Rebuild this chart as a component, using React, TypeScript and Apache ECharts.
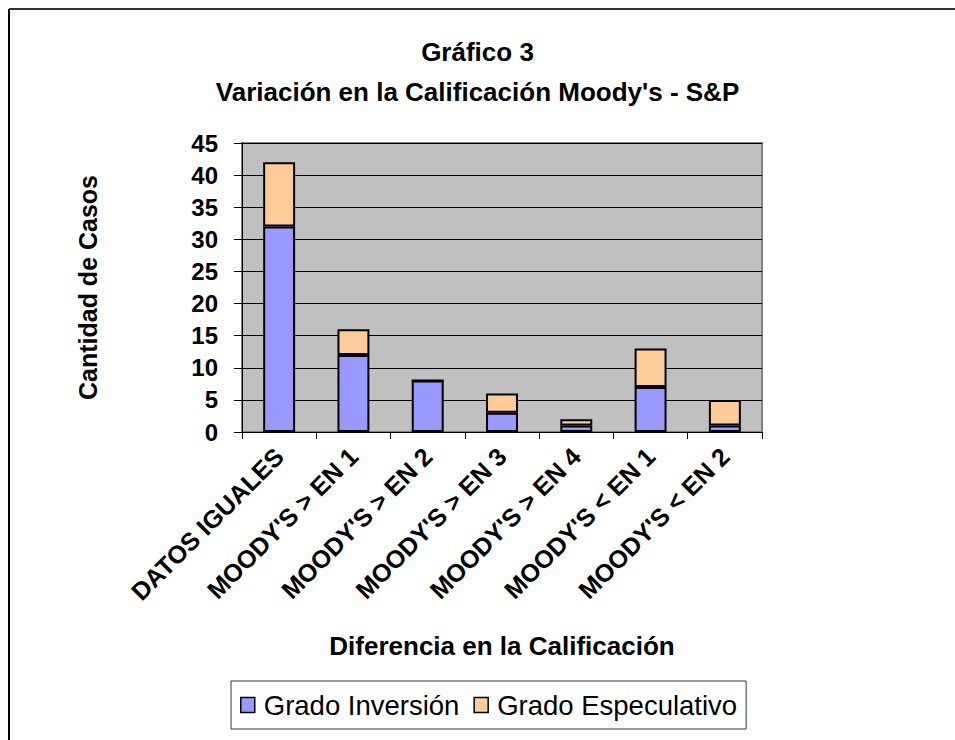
import React, { useEffect, useRef } from "react";
import * as echarts from "echarts";

const categories = [
  "DATOS IGUALES",
  "MOODY'S > EN 1",
  "MOODY'S > EN 2",
  "MOODY'S > EN 3",
  "MOODY'S > EN 4",
  "MOODY'S < EN 1",
  "MOODY'S < EN 2",
];
const gradoInversion = [32, 12, 8, 3, 1, 7, 1];
const gradoEspeculativo = [10, 4, 0, 3, 1, 6, 4];
const seriesNames = ["Grado Inversión", "Grado Especulativo"];
const titleText = "Gráfico 3\nVariación en la Calificación Moody's - S&P";
const yAxisTitle = "Cantidad de Casos";
const xAxisTitle = "Diferencia en la Calificación";

const FONT = "'Liberation Sans', Arial, sans-serif";

export default function App() {
  const ref = useRef<HTMLDivElement>(null);
  useEffect(() => {
    if (!ref.current) return;
    const chart = echarts.init(ref.current, null, { renderer: "svg" });
    chart.setOption({
      animation: false,
      backgroundColor: "#ffffff",
      textStyle: { fontFamily: FONT },
      title: {
        text: titleText,
        left: "center",
        top: 27,
        textStyle: {
          fontFamily: FONT,
          fontSize: 26,
          fontWeight: "bold",
          color: "#000",
          lineHeight: 40,
          align: "center",
        },
      },
      graphic: [
        { type: "line", shape: { x1: 9, y1: 9, x2: 955, y2: 9 }, style: { stroke: "#333", lineWidth: 2 } },
        { type: "line", shape: { x1: 9, y1: 9, x2: 9, y2: 740 }, style: { stroke: "#000", lineWidth: 2 } },
      ],
      legend: {
        left: 231,
        top: 681,
        orient: "horizontal",
        padding: [10, 9, 10, 9],
        itemGap: 14,
        itemWidth: 14,
        itemHeight: 15,
        icon: "rect",
        borderColor: "#333",
        borderWidth: 1,
        itemStyle: { borderColor: "#000", borderWidth: 1.5 },
        textStyle: { fontFamily: FONT, fontSize: 27.5, color: "#000", padding: [0, 0, 0, 4] },
        data: seriesNames,
      },
      grid: {
        left: 242,
        right: 193,
        top: 143,
        bottom: 308,
        show: true,
        backgroundColor: "#C0C0C0",
        borderColor: "#808080",
        borderWidth: 2,
        containLabel: false,
        outerBoundsMode: "none",
      },
      xAxis: {
        type: "category",
        data: categories,
        name: xAxisTitle,
        nameLocation: "middle",
        nameGap: 201,
        nameTextStyle: { fontFamily: FONT, fontSize: 26, fontWeight: "bold", color: "#000" },
        axisLine: { lineStyle: { color: "#000", width: 1 } },
        axisTick: { show: true, length: 7, interval: 0, lineStyle: { color: "#000" } },
        axisLabel: {
          interval: 0,
          rotate: 45,
          margin: 20,
          fontFamily: FONT,
          fontSize: 25,
          fontWeight: "bold",
          color: "#000",
        },
        splitLine: { show: false },
      },
      yAxis: {
        type: "value",
        min: 0,
        max: 45,
        interval: 5,
        name: yAxisTitle,
        nameLocation: "middle",
        nameGap: 142,
        nameRotate: 90,
        nameTextStyle: { fontFamily: FONT, fontSize: 25, fontWeight: "bold", color: "#000" },
        axisLine: { show: true, lineStyle: { color: "#000", width: 1 } },
        axisTick: { show: true, length: 8, lineStyle: { color: "#000" } },
        axisLabel: {
          margin: 24,
          fontFamily: FONT,
          fontSize: 24,
          fontWeight: "bold",
          color: "#000",
        },
        splitLine: { show: true, lineStyle: { color: "#000", width: 1 } },
      },
      series: [
        {
          name: seriesNames[0],
          type: "bar",
          stack: "total",
          barWidth: "43%",
          data: gradoInversion,
          itemStyle: { color: "#9999FF", borderColor: "#000", borderWidth: 2 },
        },
        {
          name: seriesNames[1],
          type: "bar",
          stack: "total",
          barWidth: "43%",
          data: gradoEspeculativo,
          itemStyle: { color: "#FFCC99", borderColor: "#000", borderWidth: 2 },
        },
      ],
    });
    return () => chart.dispose();
  }, []);
  return (
    <div
      ref={ref}
      style={{ position: "fixed", left: 0, top: 0, width: 955, height: 740 }}
    />
  );
}
